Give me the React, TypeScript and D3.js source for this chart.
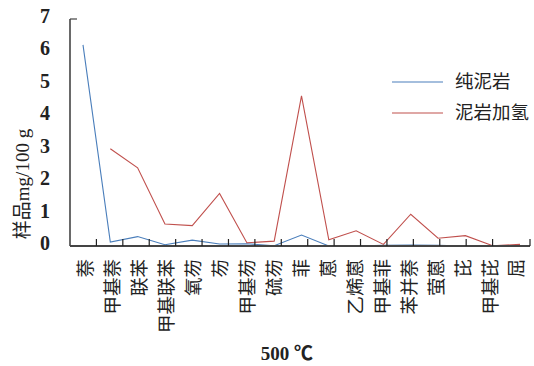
import React, { useRef, useEffect } from 'react';
import * as d3 from 'd3';

const categories = ['萘', '甲基萘', '联苯', '甲基联苯', '氧芴', '芴', '甲基芴', '硫芴', '菲', '蒽', '乙烯蒽', '甲基菲', '苯并萘', '萤蒽', '芘', '甲基芘', '屈'];
const pureMudstone = [6.2, 0.12, 0.29, 0.04, 0.18, 0.06, 0.07, 0.01, 0.34, 0, 0, 0.02, 0.03, 0.02, 0, 0, 0];
const hydroMudstone = [null, 3.0, 2.41, 0.68, 0.63, 1.62, 0.1, 0.15, 4.63, 0.19, 0.47, 0.05, 0.98, 0.24, 0.32, 0.01, 0.05];
const yTicks = [0, 1, 2, 3, 4, 5, 6, 7];
const seriesNames = ['纯泥岩', '泥岩加氢'];
const xTitle = '500 ℃';
const yTitle = '样品mg/100 g';

const serif = "'Liberation Serif', 'Times New Roman', 'Noto Sans CJK SC', serif";
const cjk = "'Noto Sans CJK SC', 'Liberation Serif', serif";

function App() {
  const ref = useRef(null);

  useEffect(() => {
    const svg = d3.select(ref.current);
    svg.selectAll('*').remove();

    const left = 70, bottom = 246, top = 19, axisEnd = 530;

    const y = d3.scaleLinear().domain([0, 7]).range([bottom, top]);
    // points of the lines
    const x = d3.scalePoint().domain(categories).range([83, 520]);
    // tick marks on the x axis
    const xTick = d3.scaleBand().domain(categories).range([left, 519]);
    // category label positions
    const xLabel = d3.scalePoint().domain(categories).range([86, 517]);

    const axisColor = '#444';

    // y axis line + top tick
    svg.append('line')
      .attr('x1', left).attr('x2', left)
      .attr('y1', y(7)).attr('y2', bottom)
      .attr('stroke', axisColor).attr('stroke-width', 1.6);
    svg.append('line')
      .attr('x1', left).attr('x2', left + 7)
      .attr('y1', y(7)).attr('y2', y(7))
      .attr('stroke', axisColor).attr('stroke-width', 1.2);

    svg.append('g').selectAll('text')
      .data(yTicks)
      .enter().append('text')
        .attr('x', 50)
        .attr('y', d => y(d) - 3)
        .attr('dy', '0.35em')
        .attr('text-anchor', 'end')
        .style('font-family', serif)
        .style('font-size', '20px')
        .style('font-weight', 'bold')
        .attr('fill', '#222')
        .text(d => d);

    // y title
    svg.append('text')
      .attr('transform', `translate(29,${184}) rotate(-90)`)
      .attr('text-anchor', 'middle')
      .style('font-family', serif)
      .style('font-size', '19px')
      .attr('fill', '#222')
      .text(yTitle);

    // lines
    const line = d3.line()
      .defined(d => d != null)
      .x((d, i) => x(categories[i]))
      .y(d => y(d));

    svg.append('path')
      .attr('d', line(pureMudstone))
      .attr('fill', 'none')
      .attr('stroke', '#4a7ebb')
      .attr('stroke-width', 1.1);

    svg.append('path')
      .attr('d', line(hydroMudstone))
      .attr('fill', 'none')
      .attr('stroke', '#c0504d')
      .attr('stroke-width', 1.1);

    // x axis
    svg.append('line')
      .attr('x1', left).attr('x2', axisEnd)
      .attr('y1', bottom).attr('y2', bottom)
      .attr('stroke', axisColor).attr('stroke-width', 1.8);

    const tickXs = categories.slice(1).map(c => xTick(c)).concat([axisEnd]);
    svg.append('g').selectAll('line')
      .data(tickXs)
      .enter().append('line')
        .attr('x1', d => d).attr('x2', d => d)
        .attr('y1', bottom).attr('y2', bottom - 7)
        .attr('stroke', '#222').attr('stroke-width', 1.2);

    svg.append('g').selectAll('text')
      .data(categories)
      .enter().append('text')
        .attr('transform', d => `translate(${xLabel(d)},259) rotate(-90)`)
        .attr('text-anchor', 'end')
        .attr('dy', '0.35em')
        .style('font-family', cjk)
        .style('font-size', '18.5px')
        .attr('fill', '#222')
        .text(d => d);

    svg.append('text')
      .attr('x', 287)
      .attr('y', 353)
      .attr('dy', '0.35em')
      .attr('text-anchor', 'middle')
      .style('font-family', serif)
      .style('font-size', '19px')
      .style('font-weight', 'bold')
      .attr('fill', '#222')
      .text(xTitle);

    // legend
    const legendColors = ['#4a7ebb', '#c0504d'];
    const legend = svg.append('g')
      .selectAll('g')
      .data(seriesNames)
      .enter().append('g')
        .attr('transform', (d, i) => `translate(392,${82 + i * 31})`);

    legend.append('line')
      .attr('x1', 0).attr('x2', 51)
      .attr('stroke', (d, i) => legendColors[i])
      .attr('stroke-width', 1.1);

    legend.append('text')
      .attr('x', 63)
      .attr('dy', '0.35em')
      .style('font-family', cjk)
      .style('font-size', '18.5px')
      .attr('fill', '#222')
      .text(d => d);
  }, []);

  return <svg ref={ref} width={534} height={366} style={{ position: 'absolute', left: 0, top: 0, background: '#fff' }}></svg>;
}

export default App;
